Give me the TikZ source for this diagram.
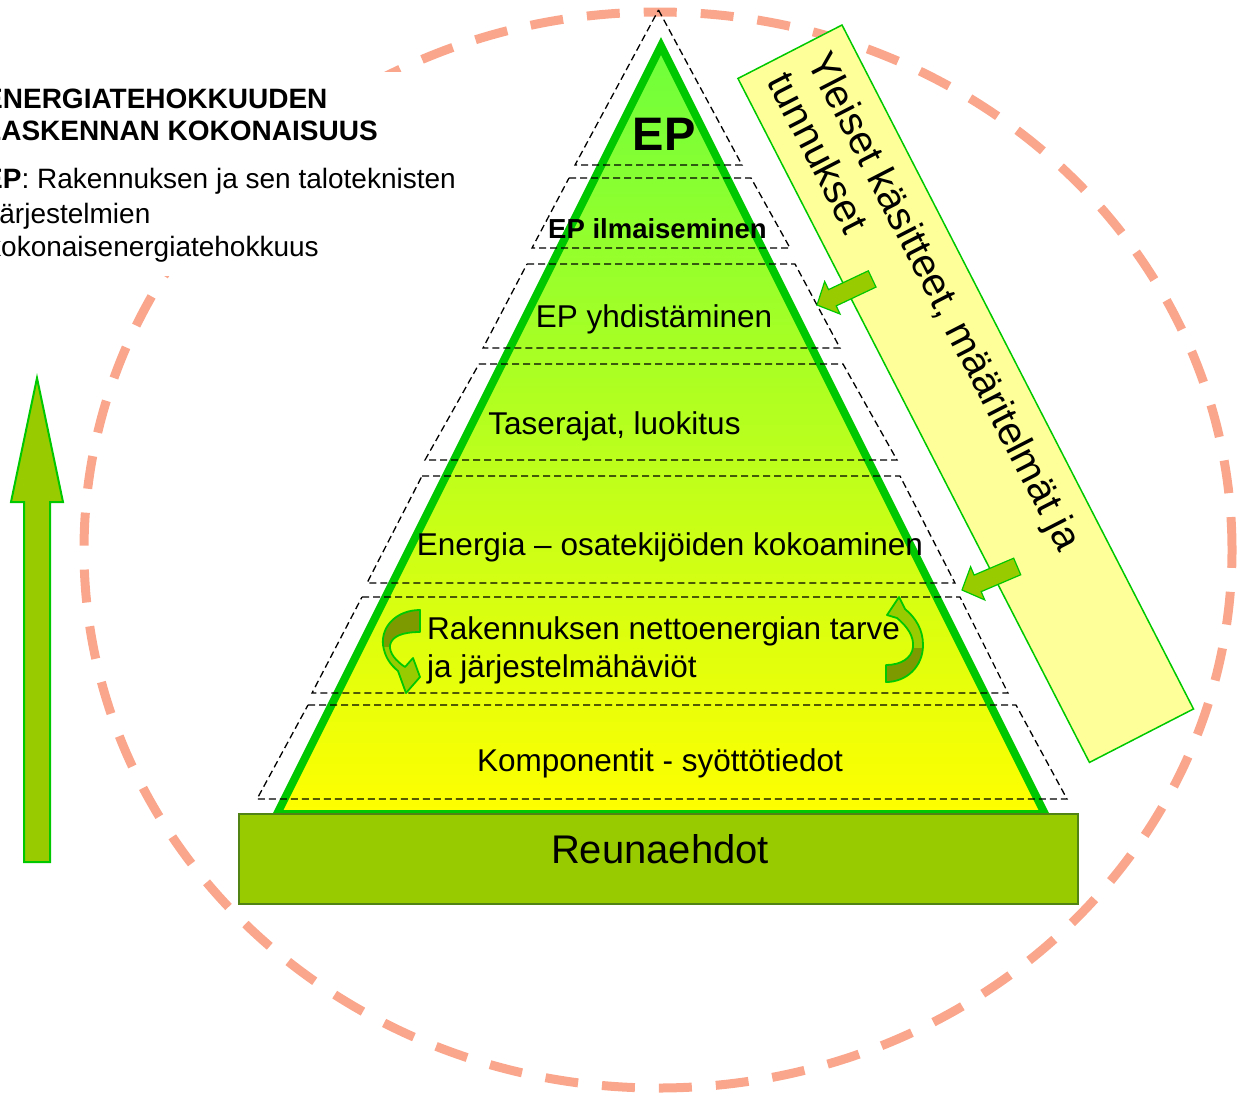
\documentclass[tikz,border=0pt]{standalone}
\usepackage{fontspec}
\setmainfont{Liberation Sans}
\definecolor{salmon}{RGB}{250,166,140}
\definecolor{pgreen}{RGB}{0,200,0}
\definecolor{olivef}{RGB}{153,204,0}
\definecolor{darkolive}{RGB}{125,155,0}
\definecolor{pyrtop}{RGB}{110,255,60}
\definecolor{lightyel}{RGB}{255,255,153}
\definecolor{boxedge}{RGB}{80,130,20}
\begin{document}
\begin{tikzpicture}[x=1pt,y=-1pt,
  lay/.style={draw=black, line width=1.3pt, dash pattern=on 7pt off 4pt},
  ptxt/.style={font=\fontsize{31.5}{36}\selectfont, inner sep=0pt, anchor=base},
  ttxt/.style={font=\fontsize{28}{32}\selectfont, inner sep=0pt, anchor=base west},
  blockarrow/.style={fill=olivef, draw=pgreen, line width=1.2pt, line join=miter},
  curvarrow/.style={draw=pgreen, line width=1.8pt, line join=round}]
\useasboundingbox (0,0) rectangle (1238,1096);
\clip (0,0) rectangle (1238,1096);

% dashed circle
\draw[salmon, line width=9pt, dash pattern=on 33pt off 24pt] (658,550) ellipse [x radius=574pt, y radius=538pt];

% title area
\fill[white] (-5,72) rectangle (462,276);
\node[ttxt, font=\bfseries\fontsize{28}{32}\selectfont] (t1) at (-16,108) {ENERGIATEHOKKUUDEN};
\node[ttxt, font=\bfseries\fontsize{28}{32}\selectfont] (t2) at (-16,140) {LASKENNAN KOKONAISUUS};
\node[ttxt] (t3) at (-16,188) {\textbf{EP}: Rakennuksen ja sen taloteknisten};
\node[ttxt] (t4) at (-7,223) {järjestelmien};
\node[ttxt] (t5) at (-13,256) {kokonaisenergiatehokkuus};

% left vertical arrow
\draw[blockarrow, line width=2pt] (37,378) -- (63,502) -- (50,502) -- (50,862) -- (24,862) -- (24,502) -- (11,502) -- cycle;

% pyramid
\shade[top color=pyrtop, bottom color=yellow] (661,46) -- (277,814) -- (1045,814) -- cycle;
\draw[pgreen, line width=8pt, line join=miter] (661,46) -- (277,814) -- (1045,814) -- cycle;

% base box
\node[draw=boxedge, fill=olivef, line width=1.5pt, minimum width=839pt, minimum height=90pt, inner sep=0pt] (base) at (658.5,859) {};
\node[ptxt, font=\fontsize{40}{44}\selectfont] (reuna) at (660,863) {Reunaehdot};

% dashed layers
\draw[lay] (658.5,10) -- (742,165) -- (575,165) -- cycle;
\draw[lay] (569,178) -- (751,178) -- (790,248) -- (532,248) -- cycle;
\draw[lay] (527,264) -- (795,264) -- (840,348) -- (483,348) -- cycle;
\draw[lay] (479,364) -- (843,364) -- (897,460) -- (425,460) -- cycle;
\draw[lay] (422,476) -- (900,476) -- (955,583) -- (367,583) -- cycle;
\draw[lay] (362,597) -- (960,597) -- (1008,693) -- (312,693) -- cycle;
\draw[lay] (308,705) -- (1016,705) -- (1067,799) -- (257,799) -- cycle;

% pyramid texts
\node[ptxt, font=\bfseries\fontsize{47}{50}\selectfont] (ep) at (664,150) {EP};
\node[ptxt, font=\bfseries\fontsize{27.5}{30}\selectfont] (ilm) at (657.5,238) {EP ilmaiseminen};
\node[ptxt] (yhd) at (654,327) {EP yhdistäminen};
\node[ptxt] (tase) at (614.5,434) {Taserajat, luokitus};
\node[ptxt] (ener) at (670,555) {Energia – osatekijöiden kokoaminen};
\node[ptxt, anchor=base west] (rak1) at (427,639) {Rakennuksen nettoenergian tarve};
\node[ptxt, anchor=base west] (rak2) at (427,677) {ja järjestelmähäviöt};
\node[ptxt] (komp) at (660,771) {Komponentit - syöttötiedot};

% left curved arrow
\def\leftcurv{(420,610) .. controls (397,610) and (381,626) .. (383,645)
  .. controls (385,658) and (391,665) .. (398,671) -- (406,693) -- (420,677) -- (413,658) -- (405,667)
  .. controls (396,661) and (389,653) .. (390,645) .. controls (392,636) and (403,632) .. (420,632) -- cycle}
\fill[olivef] \leftcurv;
\begin{scope}
\clip (360,600) rectangle (430,646);
\fill[darkolive] \leftcurv;
\end{scope}
\draw[curvarrow] \leftcurv;

% right curved arrow
\def\rightcurv{(886,682) .. controls (906,682) and (923,667) .. (923,645)
  .. controls (923,630) and (916,618) .. (905,609) -- (899,597) -- (887,615) -- (897,618)
  .. controls (908,627) and (914,637) .. (913,647) .. controls (912,658) and (901,665) .. (886,665) -- cycle}
\fill[olivef] \rightcurv;
\begin{scope}
\clip (870,648) rectangle (940,700);
\fill[darkolive] \rightcurv;
\end{scope}
\draw[curvarrow] \rightcurv;

% yellow rotated box with text
\begin{scope}[shift={(842,25)}, rotate=-62.8, transform shape]
  \node[draw=pgreen, fill=lightyel, line width=1.5pt, minimum width=769pt, minimum height=117pt, inner sep=0pt] (ybox) at (384.5,58.5) {};
  \node[font=\fontsize{40}{44}\selectfont, inner sep=0pt, anchor=base west] (yl1) at (16,48) {Yleiset käsitteet, määritelmät ja};
  \node[font=\fontsize{40}{44}\selectfont, inner sep=0pt, anchor=base west] (yl2) at (16,93) {tunnukset};
\end{scope}

% small block arrows
\begin{scope}[shift={(817,305)}, rotate=205.3]
  \draw[blockarrow] (0,0) -- (-17,18) -- (-17,9) -- (-61,9) -- (-61,-9) -- (-17,-9) -- (-17,-18) -- cycle;
\end{scope}
\begin{scope}[shift={(962,590)}, rotate=203.1]
  \draw[blockarrow] (0,0) -- (-17,18) -- (-17,9) -- (-60,9) -- (-60,-9) -- (-17,-9) -- (-17,-18) -- cycle;
\end{scope}
\end{tikzpicture}
\end{document}
